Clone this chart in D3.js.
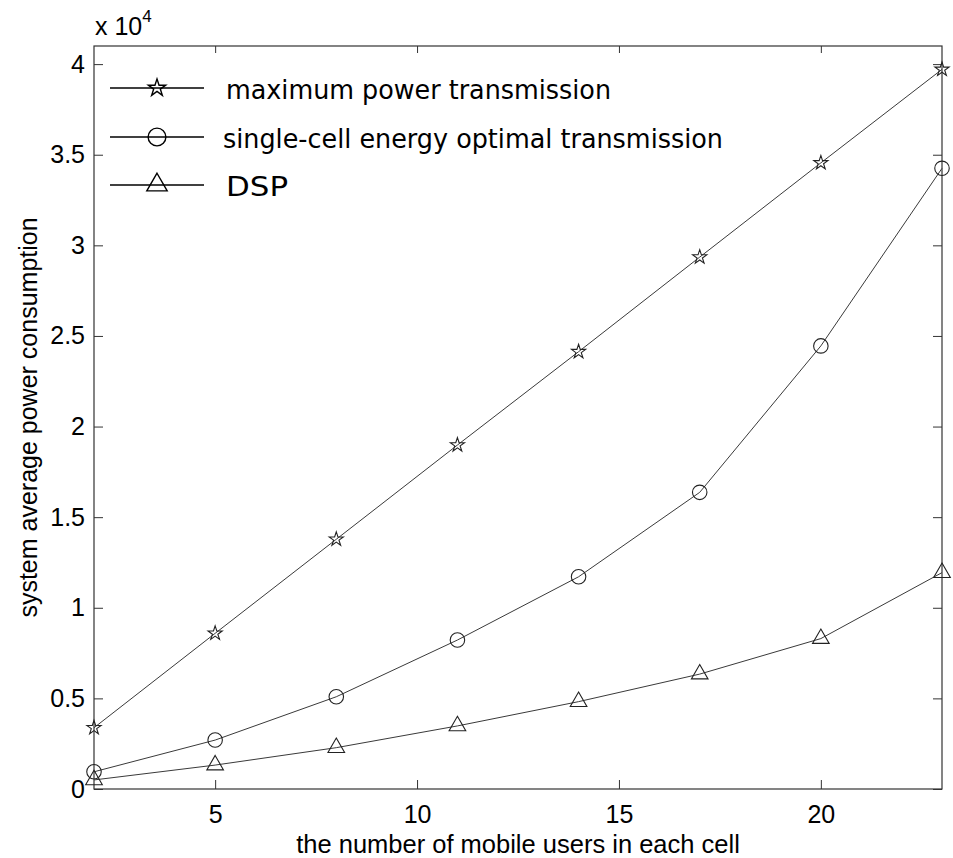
<!DOCTYPE html>
<html>
<head>
<meta charset="utf-8">
<script src="https://cdn.jsdelivr.net/npm/d3@7/dist/d3.min.js"></script>
<style>
  body { margin: 0; background: #fff; }
  svg text { font-family: "Liberation Sans", Arial, sans-serif; fill: #000; }
  .legend text { font-family: "DejaVu Sans", Tahoma, sans-serif; }
</style>
</head>
<body>
<div id="chart"></div>
<script>
	// users per cell
	var users = [2, 5, 8, 11, 14, 17, 20, 23];

	// power consumption, in units of 10^4
	var maxPower = [0.338, 0.859, 1.378, 1.898, 2.413, 2.935, 3.455, 3.971];
	var singleCell = [0.095, 0.270, 0.509, 0.822, 1.171, 1.637, 2.445, 3.425];
	var dsp = [0.050, 0.132, 0.228, 0.348, 0.482, 0.634, 0.830, 1.194];

	var seriesNames = ["maximum power transmission", "single-cell energy optimal transmission", "DSP"];

	var xTicks = [5, 10, 15, 20];
	var yTicks = [0, 0.5, 1, 1.5, 2, 2.5, 3, 3.5, 4];

	var width = 953, height = 858;
	// plot box (window.top is taken, so use a margin object)
	var m = {left: 94, right: 942, top: 46, bottom: 789};

	var svg = d3.select('#chart').append('svg')
		.attr('width', width)
		.attr('height', height);

	var x = d3.scaleLinear().domain([2, 23]).range([m.left, m.right]);
	var y = d3.scaleLinear().domain([0, 4.1]).range([m.bottom, m.top]);

	var symbols = [d3.symbolStar, d3.symbolCircle, d3.symbolTriangle];
	var symSize = [62, 165, 120];
	var series = [maxPower, singleCell, dsp];

	// axes, ticks point inward like matlab
	var gx = svg.append("g")
		.attr("transform", "translate(0," + m.bottom + ")")
		.call(d3.axisBottom(x).tickValues(xTicks).tickSize(-9).tickPadding(16).tickFormat(d3.format("d")));
	var gxTop = svg.append("g")
		.attr("transform", "translate(0," + m.top + ")")
		.call(d3.axisTop(x).tickValues(xTicks).tickSize(-7).tickFormat(""));
	var gy = svg.append("g")
		.attr("transform", "translate(" + m.left + ",0)")
		.call(d3.axisLeft(y).tickValues(yTicks).tickSize(-9).tickPadding(9).tickFormat(function(d){ return d; }));
	var gyRight = svg.append("g")
		.attr("transform", "translate(" + m.right + ",0)")
		.call(d3.axisRight(y).tickValues(yTicks).tickSize(-9).tickFormat(""));

	[gx, gxTop, gy, gyRight].forEach(function(g){
		g.select(".domain").remove();
		g.selectAll("line").attr("stroke", "#333");
		g.selectAll("text").attr("font-size", 25).attr("fill", "#000")
			.attr("font-family", '"Liberation Sans", Arial, sans-serif');
	});

	svg.append("rect")
		.attr("x", m.left).attr("y", m.top)
		.attr("width", m.right - m.left).attr("height", m.bottom - m.top)
		.attr("fill", "none")
		.attr("stroke", "#333")
		.attr("stroke-width", 1.2);

	// lines and markers
	var line = d3.line()
		.x(function(d){ return x(d[0]); })
		.y(function(d){ return y(d[1]); });

	series.forEach(function(vals, k){
		var pts = users.map(function(u, i){ return [u, vals[i]]; });

		svg.append("path")
			.datum(pts)
			.attr("d", line)
			.attr("fill", "none")
			.attr("stroke", "#3a3a3a")
			.attr("stroke-width", 1);

		svg.selectAll(".m" + k)
			.data(pts)
			.enter()
			.append("path")
			.attr("class", "m" + k)
			.attr("transform", function(d){ return "translate(" + x(d[0]) + "," + y(d[1]) + ")"; })
			.attr("d", d3.symbol().type(symbols[k]).size(symSize[k]))
			.attr("fill", "none")
			.attr("stroke", "#222")
			.attr("stroke-width", 1.1);
	});

	// legend
	var legend = svg.append("g").attr("class", "legend");
	var legY = [88, 137, 185];
	var legLen = [385, 500, 62];

	seriesNames.forEach(function(name, k){
		legend.append("line")
			.attr("x1", 110).attr("x2", 204)
			.attr("y1", legY[k]).attr("y2", legY[k])
			.attr("stroke", "#000")
			.attr("stroke-width", 1.6);
		legend.append("path")
			.attr("transform", "translate(157," + legY[k] + ")")
			.attr("d", d3.symbol().type(symbols[k]).size(symSize[k] * 1.5))
			.attr("fill", "none")
			.attr("stroke", "#000")
			.attr("stroke-width", 1.4);
		legend.append("text")
			.attr("x", k == 1 ? 223 : 226)
			.attr("y", legY[k] + 11)
			.attr("font-size", 26)
			.attr("textLength", legLen[k])
			.attr("lengthAdjust", "spacingAndGlyphs")
			.text(name);
	});

	// exponent label
	var exp = svg.append("text")
		.attr("x", 95).attr("y", 35)
		.attr("font-size", 25);
	exp.append("tspan").text("x 10");
	exp.append("tspan").attr("font-size", 17).attr("dy", -13).text("4");

	// axis titles
	svg.append("text")
		.attr("x", (m.left + m.right) / 2)
		.attr("y", 853)
		.attr("text-anchor", "middle")
		.attr("font-size", 25.5)
		.text("the number of mobile users in each cell");

	svg.append("text")
		.attr("transform", "translate(37," + (m.top + m.bottom) / 2 + ") rotate(-90)")
		.attr("text-anchor", "middle")
		.attr("font-size", 25)
		.text("system average power consumption");
</script>
</body>
</html>
